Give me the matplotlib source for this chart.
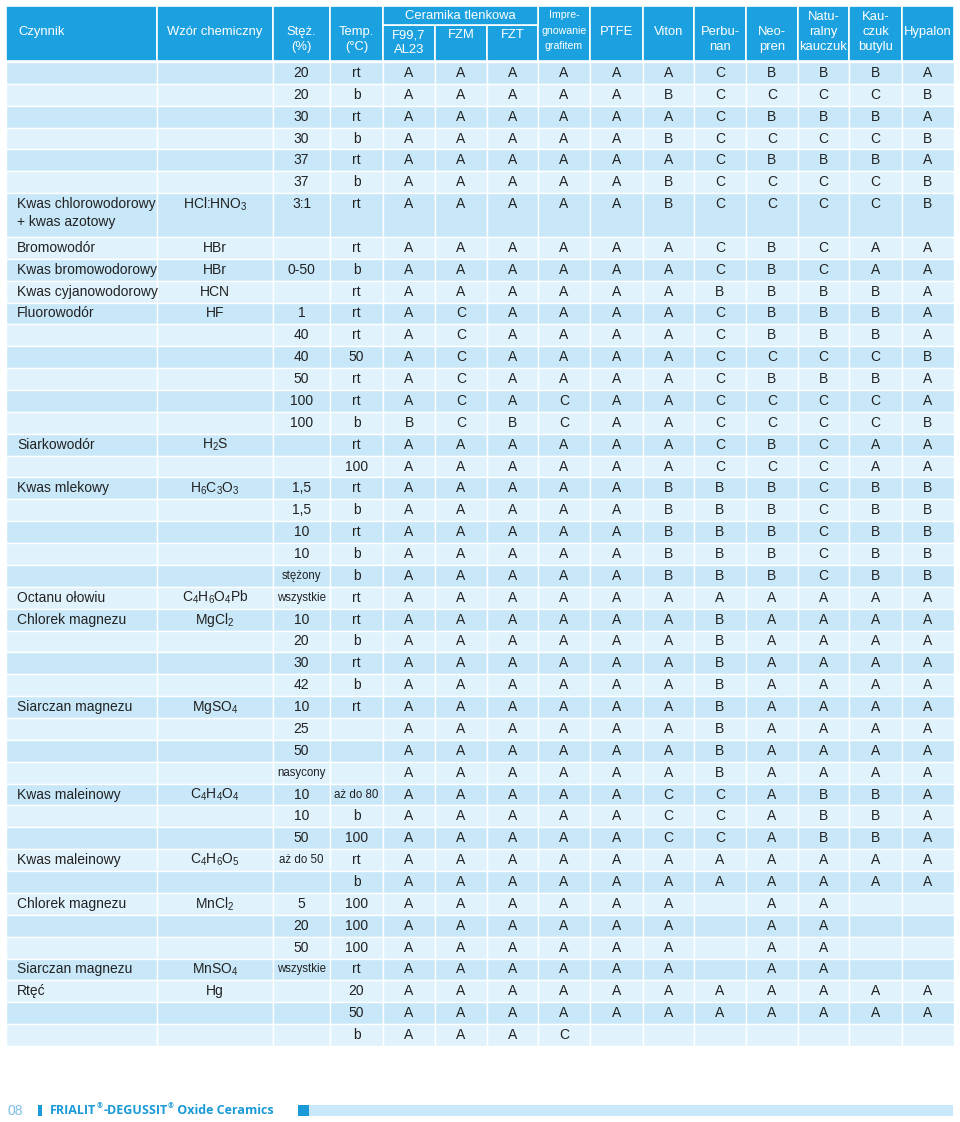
import matplotlib
matplotlib.use("Agg")
import matplotlib.pyplot as plt
from matplotlib.patches import Rectangle

plt.rcParams['font.family'] = ['Liberation Sans', 'DejaVu Sans']
plt.rcParams['mathtext.fontset'] = 'custom'
plt.rcParams['mathtext.rm'] = 'Liberation Sans'
plt.rcParams['mathtext.it'] = 'Liberation Sans'
plt.rcParams['mathtext.bf'] = 'Liberation Sans:bold'

# ---------------- data ----------------
material_headers = ["F99,7\nAL23", "FZM", "FZT", "Impre-\ngnowanie\ngrafitem", "PTFE", "Viton",
                    "Perbu-\nnan", "Neo-\npren", "Natu-\nralny\nkauczuk", "Kau-\nczuk\nbutylu", "Hypalon"]

factors = ["", "", "", "", "", "",
           "Kwas chlorowodorowy\n+ kwas azotowy", "Bromowodór", "Kwas bromowodorowy",
           "Kwas cyjanowodorowy", "Fluorowodór", "", "", "", "", "",
           "Siarkowodór", "", "Kwas mlekowy", "", "", "", "", "Octanu ołowiu",
           "Chlorek magnezu", "", "", "", "Siarczan magnezu", "", "", "",
           "Kwas maleinowy", "", "", "Kwas maleinowy", "", "Chlorek magnezu", "", "",
           "Siarczan magnezu", "Rtęć", "", ""]

formulas = ["", "", "", "", "", "",
            r"HCl:HNO$_3$", "HBr", "HBr", "HCN", "HF", "", "", "", "", "",
            r"H$_2$S", "", r"H$_6$C$_3$O$_3$", "", "", "", "",
            r"C$_4$H$_6$O$_4$Pb", r"MgCl$_2$", "", "", "",
            r"MgSO$_4$", "", "", "",
            r"C$_4$H$_4$O$_4$", "", "", r"C$_4$H$_6$O$_5$", "",
            r"MnCl$_2$", "", "", r"MnSO$_4$", "Hg", "", ""]

concentration = ["20", "20", "30", "30", "37", "37", "3:1", "", "0-50", "", "1",
                 "40", "40", "50", "100", "100", "", "", "1,5", "1,5", "10", "10",
                 "stężony", "wszystkie", "10", "20", "30", "42", "10", "25", "50",
                 "nasycony", "10", "10", "50", "aż do 50", "", "5", "20", "50",
                 "wszystkie", "", "", ""]

temperature = ["rt", "b", "rt", "b", "rt", "b", "rt", "rt", "b", "rt", "rt",
               "rt", "50", "rt", "rt", "b", "rt", "100", "rt", "b", "rt", "b",
               "b", "rt", "rt", "b", "rt", "b", "rt", "", "", "",
               "aż do 80", "b", "100", "rt", "b", "100", "100", "100",
               "rt", "20", "50", "b"]

# one string per row, one letter per material column, '-' = empty
ratings = ["AAAAAACBBBA", "AAAAABCCCCB", "AAAAAACBBBA", "AAAAABCCCCB",
           "AAAAAACBBBA", "AAAAABCCCCB", "AAAAABCCCCB", "AAAAAACBCAA",
           "AAAAAACBCAA", "AAAAAABBBBA", "ACAAAACBBBA", "ACAAAACBBBA",
           "ACAAAACCCCB", "ACAAAACBBBA", "ACACAACCCCA", "BCBCAACCCCB",
           "AAAAAACBCAA", "AAAAAACCCAA", "AAAAABBBCBB", "AAAAABBBCBB",
           "AAAAABBBCBB", "AAAAABBBCBB", "AAAAABBBCBB", "AAAAAAAAAAA",
           "AAAAAABAAAA", "AAAAAABAAAA", "AAAAAABAAAA", "AAAAAABAAAA",
           "AAAAAABAAAA", "AAAAAABAAAA", "AAAAAABAAAA", "AAAAAABAAAA",
           "AAAAACCABBA", "AAAAACCABBA", "AAAAACCABBA", "AAAAAAAAAAA",
           "AAAAAAAAAAA", "AAAAAA-AA--", "AAAAAA-AA--", "AAAAAA-AA--",
           "AAAAAA-AA--", "AAAAAAAAAAA", "AAAAAAAAAAA", "AAAC-------"]

# ---------------- layout ----------------
W, H = 960, 1122
col_edges = [6, 157, 273, 330, 383, 435, 487, 538, 590, 643, 694, 746, 798, 849, 902, 954]
head_top, head_mid, head_bot = 6, 25, 61
body_top, body_bot = 62, 1046
row_units = [2 if "\n" in f else 1 for f in factors]
unit_h = (body_bot - body_top) / sum(row_units)

HEAD_BG = "#1ba1e0"
DARK = "#c8e7f8"
LIGHT = "#e0f2fc"
TXT = "#222222"

fig = plt.figure(figsize=(W / 100, H / 100), dpi=100)
ax = fig.add_axes([0, 0, 1, 1])
ax.set_xlim(0, W)
ax.set_ylim(H, 0)
ax.axis("off")


def cell(x0, x1, y0, y1, color, lw=1.0):
    ax.add_patch(Rectangle((x0, y0), x1 - x0, y1 - y0, facecolor=color,
                           edgecolor="white", linewidth=lw))


def cx(i):
    return (col_edges[i] + col_edges[i + 1]) / 2


# header
for i in range(len(col_edges) - 1):
    if 4 <= i <= 6:
        cell(col_edges[i], col_edges[i + 1], head_mid, head_bot, HEAD_BG, 1.2)
    else:
        cell(col_edges[i], col_edges[i + 1], head_top, head_bot, HEAD_BG, 1.2)
cell(col_edges[4], col_edges[7], head_top, head_mid, HEAD_BG, 1.2)

hkw = dict(color="white", va="center", fontsize=9.4, linespacing=1.15)
ax.text(18, 32, "Czynnik", ha="left", **hkw)
ax.text(cx(1), 32, "Wzór chemiczny", ha="center", **hkw)
ax.text(cx(2), 32, "Stęż.", ha="center", **hkw)
ax.text(cx(2), 47, "(%)", ha="center", **hkw)
ax.text(cx(3), 32, "Temp.", ha="center", **hkw)
ax.text(cx(3), 47, "(°C)", ha="center", **hkw)
ax.text((col_edges[4] + col_edges[7]) / 2, 16, "Ceramika tlenkowa", ha="center", **hkw)

for j, name in enumerate(material_headers):
    x = cx(4 + j)
    lines = name.split("\n")
    if j < 3:
        ys = [35, 50]
    elif len(lines) == 3:
        ys = [17, 32, 47]
    else:
        ys = [32, 47]
    fs = 9.4
    if j == 3:
        ys = [15, 31, 46]
        fs = 7.6
    for ln, y in zip(lines, ys):
        ax.text(x, y, ln, ha="center", va="center", color="white", fontsize=fs)

# body
small_words = ("stężony", "wszystkie", "nasycony", "aż do 50", "aż do 80")
y = body_top
for r in range(len(factors)):
    h = row_units[r] * unit_h
    color = DARK if r % 2 == 0 else LIGHT
    for i in range(len(col_edges) - 1):
        cell(col_edges[i], col_edges[i + 1], y, y + h, color, 1.0)
    ty = y + unit_h / 2
    if factors[r]:
        for k, ln in enumerate(factors[r].split("\n")):
            ax.text(17, ty + k * 18, ln, ha="left", va="center", color=TXT, fontsize=10)
    if formulas[r]:
        ax.text(cx(1), ty, formulas[r], ha="center", va="center", color=TXT, fontsize=10)
    if concentration[r]:
        ax.text(cx(2), ty, concentration[r], ha="center", va="center", color=TXT,
                fontsize=8.3 if concentration[r] in small_words else 10)
    if temperature[r]:
        ax.text(cx(3), ty, temperature[r], ha="center", va="center", color=TXT,
                fontsize=8.3 if temperature[r] in small_words else 10)
    for j, ch in enumerate(ratings[r]):
        if ch != "-":
            ax.text(cx(4 + j), ty, ch, ha="center", va="center", color=TXT, fontsize=10)
    y += h

# footer
FOOT_BLUE = "#1a9ad6"
ax.text(8, 1111, "08", ha="left", va="center", color="#7cbde3", fontsize=10)
ax.add_patch(Rectangle((38, 1105), 4, 11, facecolor=FOOT_BLUE, edgecolor="none"))

renderer = fig.canvas.get_renderer()
pieces = [("FRIALIT", 9.0, 0), ("®", 5, -4), ("-DEGUSSIT", 9.0, 0), ("®", 5, -4),
          (" Oxide Ceramics", 9.0, 0)]
x = 50
inv = ax.transData.inverted()
for txt, fs, dy in pieces:
    t = ax.text(x, 1111 + dy, txt, ha="left", va="center", color=FOOT_BLUE,
                fontsize=fs, fontweight="bold", family=["Open Sans", "DejaVu Sans"])
    bb = t.get_window_extent(renderer=renderer)
    x1 = inv.transform((bb.x1, bb.y1))[0]
    x = x1 + 0.5

ax.add_patch(Rectangle((298, 1105), 11, 11, facecolor=FOOT_BLUE, edgecolor="none"))
ax.add_patch(Rectangle((309, 1105), 644, 11, facecolor="#c9e8f9", edgecolor="none"))

fig.savefig("out.png", dpi=100, facecolor="white")
